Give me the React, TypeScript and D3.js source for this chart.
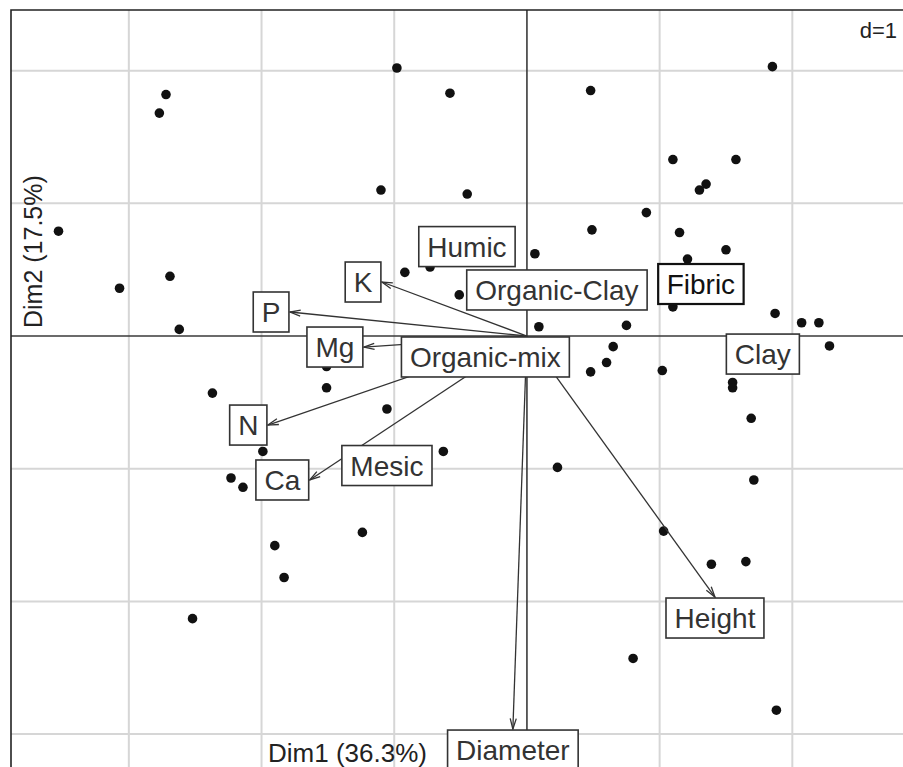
import React, { useRef, useEffect } from 'react';
import * as d3 from 'd3';

// site scores (Dim1, Dim2)
const pointX = [
  -2.72, -2.77, -3.53, -0.98, -0.58, 0.48, -1.10, -0.45, 0.49, 1.85,
  1.10, 1.575, 1.35, 1.30, 0.90, 1.15, 1.50, 1.21, -3.07, -2.69,
  -2.62, -0.92, -0.73, 0.06, -0.51, 0.09, -1.51, -1.51, -1.055, -0.63,
  0.48, 0.23, -2.37, -1.99, -2.23, -2.14, 1.10, 0.75, 1.87, 2.07,
  2.20, 2.28, 0.65, 0.60, 1.02, 1.55, 1.55, 1.69, 1.71, -1.90,
  -1.83, -2.52, -1.24, 1.03, 1.39, 1.65, 0.80, 1.88,
];
const pointY = [
  1.82, 1.68, 0.79, 2.02, 1.83, 1.85, 1.10, 1.07, 0.80, 2.03,
  1.33, 1.33, 1.145, 1.10, 0.93, 0.78, 0.65, 0.58, 0.36, 0.45,
  0.05, 0.48, 0.52, 0.62, 0.31, 0.07, -0.23, -0.39, -0.55, -0.87,
  -0.27, -0.99, -0.43, -0.87, -1.07, -1.14, 0.22, 0.08, 0.17, 0.10,
  0.10, -0.075, -0.08, -0.20, -0.26, -0.35, -0.39, -0.62, -1.085, -1.58,
  -1.82, -2.13, -1.48, -1.47, -1.72, -1.70, -2.43, -2.82,
];

// variable arrows
const arrowNames = ['K', 'P', 'Mg', 'N', 'Ca', 'Diameter', 'Height'];
const arrowX = [-1.093, -1.786, -1.229, -1.952, -1.637, -0.106, 1.417];
const arrowY = [0.407, 0.181, -0.083, -0.671, -1.085, -2.962, -1.967];

// factor level centroids
const levelNames = ['Humic', 'Organic-mix', 'Clay', 'Mesic', 'Organic-Clay', 'Fibric'];
const levelX = [-0.452, -0.313, 1.778, -1.055, 0.226, 1.311];
const levelY = [0.674, -0.158, -0.136, -0.976, 0.347, 0.392];

const gridTicks = [-3, -2, -1, 1, 2];

const W = 903;
const H = 767;
const FONT = '"Liberation Sans", Arial, sans-serif';

const App = () => {
  const ref = useRef<SVGSVGElement>(null);

  useEffect(() => {
    const svg = d3.select(ref.current);
    svg.selectAll('*').remove();

    const left = 11;
    const top = 10;
    const x = d3.scaleLinear().domain([-3.888, 2.834]).range([left, W]);
    const y = d3.scaleLinear().domain([2.457, -3.248]).range([top, H]);

    // grid
    const grid = svg.append('g');
    grid.selectAll('line.gx').data(gridTicks).join('line')
      .attr('x1', d => x(d)).attr('x2', d => x(d))
      .attr('y1', top).attr('y2', H)
      .attr('stroke', '#d6d6d6').attr('stroke-width', 2);
    grid.selectAll('line.gy').data(gridTicks).join('line')
      .attr('x1', left).attr('x2', W)
      .attr('y1', d => y(d)).attr('y2', d => y(d))
      .attr('stroke', '#d6d6d6').attr('stroke-width', 2);

    // axes through origin
    svg.append('line')
      .attr('x1', left).attr('x2', W).attr('y1', y(0)).attr('y2', y(0))
      .attr('stroke', '#3a3a3a').attr('stroke-width', 1.6);
    svg.append('line')
      .attr('x1', x(0)).attr('x2', x(0)).attr('y1', top).attr('y2', H)
      .attr('stroke', '#3a3a3a').attr('stroke-width', 1.6);

    // frame (left and top visible)
    svg.append('path')
      .attr('d', `M${left},${H}V${top}H${W}`)
      .attr('fill', 'none').attr('stroke', '#222').attr('stroke-width', 1.6);

    // axis titles and scale
    svg.append('text')
      .attr('x', 268).attr('y', 762)
      .attr('font-family', FONT).attr('font-size', 26).attr('fill', '#222')
      .text('Dim1 (36.3%)');
    svg.append('text')
      .attr('transform', 'translate(42,328) rotate(-90)')
      .attr('font-family', FONT).attr('font-size', 25).attr('fill', '#222')
      .text('Dim2 (17.5%)');
    svg.append('text')
      .attr('x', 897).attr('y', 38).attr('text-anchor', 'end')
      .attr('font-family', FONT).attr('font-size', 22).attr('fill', '#222')
      .text('d=1');

    // points
    svg.append('g').selectAll('circle').data(d3.range(pointX.length)).join('circle')
      .attr('cx', i => x(pointX[i])).attr('cy', i => y(pointY[i]))
      .attr('r', 4.8).attr('fill', '#111');

    // arrows
    const ox = x(0);
    const oy = y(0);
    const ag = svg.append('g').attr('stroke', '#333').attr('stroke-width', 1.3).attr('fill', 'none');
    arrowNames.forEach((_, i) => {
      const tx = x(arrowX[i]);
      const ty = y(arrowY[i]);
      ag.append('line').attr('x1', ox).attr('y1', oy).attr('x2', tx).attr('y2', ty);
      const a = Math.atan2(ty - oy, tx - ox);
      const len = 11;
      const sp = (16 * Math.PI) / 180;
      const p1 = [tx - len * Math.cos(a - sp), ty - len * Math.sin(a - sp)];
      const p2 = [tx - len * Math.cos(a + sp), ty - len * Math.sin(a + sp)];
      ag.append('path').attr('d', `M${p1[0]},${p1[1]}L${tx},${ty}L${p2[0]},${p2[1]}`);
    });

    const pad = 8.5;
    const boxH = 40;
    const fs = 28;

    const drawBox = (label: string, place: (w: number) => [number, number], dark: boolean) => {
      const g = svg.append('g');
      const rect = g.append('rect');
      const text = g.append('text')
        .attr('font-family', FONT).attr('font-size', fs)
        .attr('fill', dark ? '#111' : '#333')
        .attr('text-anchor', 'middle')
        .text(label);
      const tw = (text.node() as SVGTextElement).getComputedTextLength();
      const bw = tw + 2 * pad;
      const [cx, cy] = place(bw);
      rect.attr('x', cx - bw / 2).attr('y', cy - boxH / 2)
        .attr('width', bw).attr('height', boxH)
        .attr('fill', '#fff')
        .attr('stroke', dark ? '#111' : '#333')
        .attr('stroke-width', dark ? 2.2 : 1.6);
      text.attr('x', cx).attr('y', cy + 10);
    };

    // arrow labels next to tips
    arrowNames.forEach((name, i) => {
      const tx = x(arrowX[i]);
      const ty = y(arrowY[i]);
      const dx = tx - ox;
      const dy = ty - oy;
      drawBox(name, bw => {
        if (Math.abs(dx) > Math.abs(dy)) {
          return [dx < 0 ? tx - bw / 2 - 1 : tx + bw / 2 + 1, ty];
        }
        return [tx, dy > 0 ? ty + boxH / 2 + 1 : ty - boxH / 2 - 1];
      }, false);
    });

    // factor level labels centred on centroids
    levelNames.forEach((name, i) => {
      drawBox(name, () => [x(levelX[i]), y(levelY[i])], name === 'Fibric');
    });
  }, []);

  return (
    <svg
      ref={ref}
      width={W}
      height={H}
      style={{ position: 'absolute', left: 0, top: 0, background: '#fff' }}
    />
  );
};

export default App;
